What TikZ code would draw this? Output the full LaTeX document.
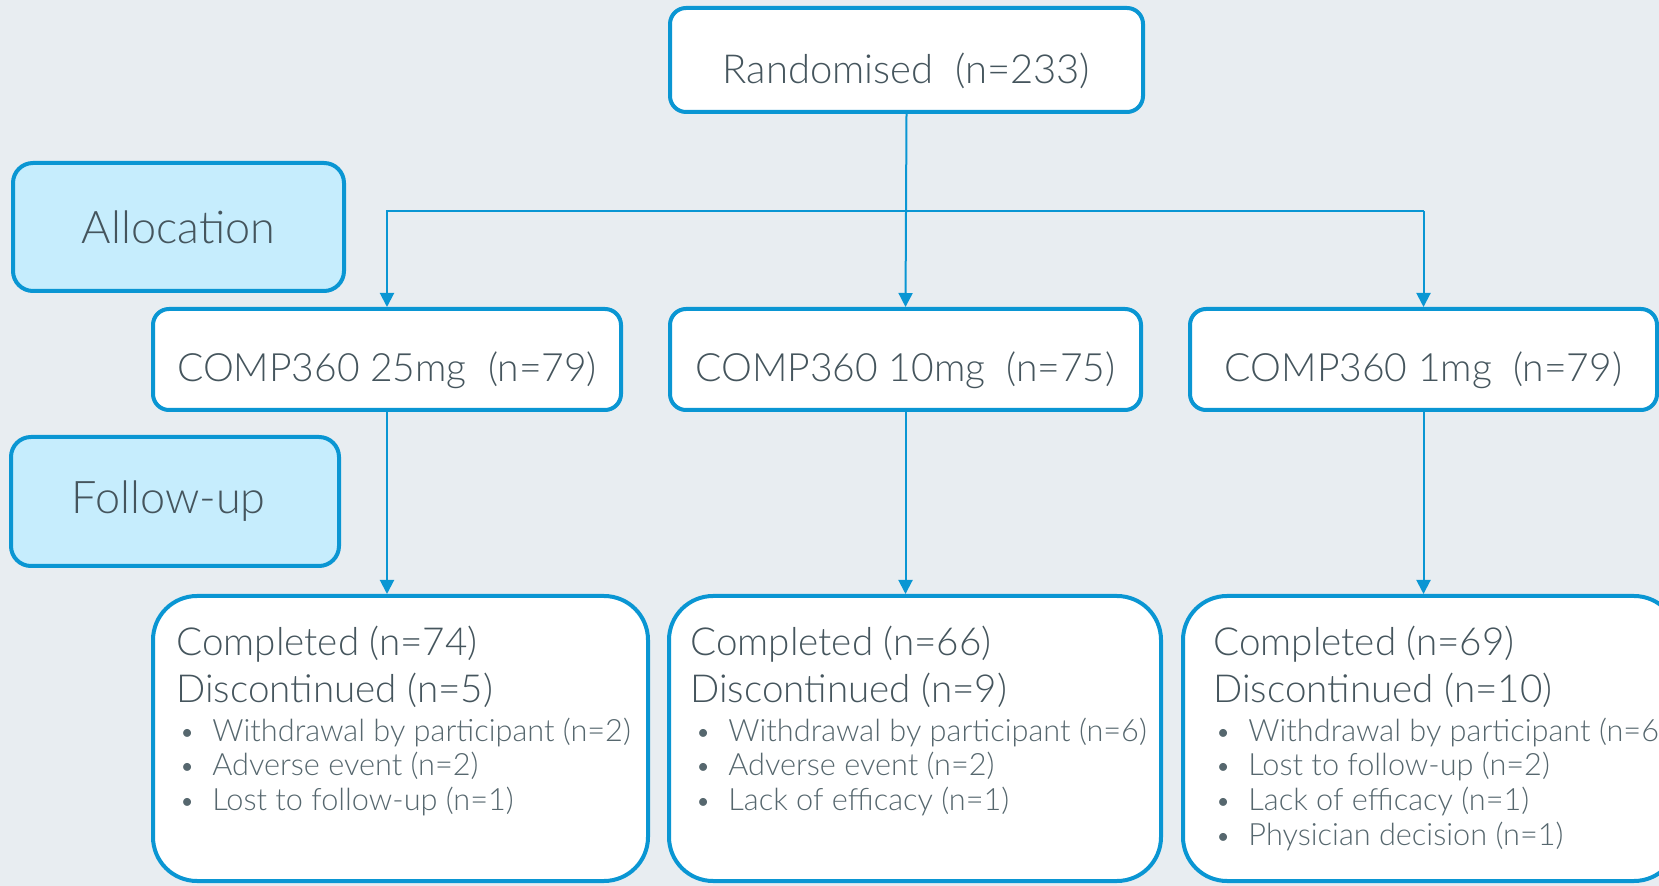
\documentclass[tikz,border=0pt]{standalone}
\usepackage{fontspec}
\setmainfont{Lato}
\newfontfamily\lt{Lato Light}
\usetikzlibrary{arrows.meta}
\definecolor{bg}{HTML}{E8EDF1}
\definecolor{bord}{HTML}{0A96D3}
\definecolor{txt}{HTML}{45555D}
\definecolor{txtl}{HTML}{56676E}
\definecolor{lab}{HTML}{C6EDFD}
\begin{document}
\begin{tikzpicture}[x=0.5pt,y=-0.5pt,
  box/.style={draw=bord, line width=2pt, fill=white, rounded corners=8pt, inner sep=0pt, text=txt, font=\lt\fontsize{19.5}{24}\selectfont},
  labbox/.style={box, fill=lab, rounded corners=10pt, font=\lt\fontsize{22.5}{26}\selectfont},
  bigbox/.style={box, rounded corners=22pt},
  conn/.style={draw=bord, line width=1pt, -{Triangle[width=7pt,length=7pt]}},
  head/.style={anchor=west, inner sep=0pt, text=txt, font=\lt\fontsize{19.3}{22}\selectfont},
  item/.style={anchor=west, inner sep=0pt, text=txtl, font=\lt\fontsize{15.35}{18}\selectfont},
]
\fill[bg] (0,0) rectangle (1659,886);
\useasboundingbox (0,0) rectangle (1659,886);
\newcommand{\bl}{\makebox[16.5pt][l]{\fontsize{13.5}{13.5}\selectfont\textbullet}}
\newcommand{\dn}[1]{\raisebox{-5.5pt}[\height][\depth]{#1}}

\node[box, minimum width=236.5pt, minimum height=52pt, font=\lt\fontsize{20}{24}\selectfont] (rand) at (906.5,60) {\dn{Randomised\ \ (n=233)}};
\node[labbox, minimum width=165.5pt, minimum height=64pt] (alloc) at (178.5,227) {Allocation};
\node[labbox, minimum width=164pt, minimum height=64.5pt] (foll) at (175,501.5) {\hspace*{-6.4pt}Follow-up};

\node[box, minimum width=234pt, minimum height=50.5pt] (m1) at (387,359.5) {\dn{COMP360 25mg\ \ (n=79)}};
\node[box, minimum width=235.5pt, minimum height=50.5pt] (m2) at (905.5,359.5) {\dn{COMP360 10mg\ \ (n=75)}};
\node[box, minimum width=233.5pt, minimum height=50.5pt] (m3) at (1423.5,359.5) {\dn{COMP360 1mg\ \ (n=79)}};

\node[bigbox, minimum width=247.5pt, minimum height=142.5pt] (b1) at (400.5,738.5) {};
\node[bigbox, minimum width=246pt, minimum height=142.5pt] (b2) at (915,738.5) {};
\node[bigbox, minimum width=247.5pt, minimum height=142.5pt] (b3) at (1430.5,738.5) {};

\coordinate (hl) at (905.5,211);
\draw[conn] (rand.south) -- (m2.north);
\draw[conn] (hl -| m3.north) -- (hl -| m1.north) -- (m1.north);
\draw[conn] (hl -| m3.north) -- (m3.north);
\draw[conn] (m1.south) -- (m1.south |- b1.north);
\draw[conn] (m2.south) -- (m2.south |- b2.north);
\draw[conn] (m3.south) -- (m3.south |- b3.north);

% box 1 text
\node[head] (b1c) at (176,644) {Completed (n=74)};
\node[head] (b1d) at (176,690) {Discontinued (n=5)};
\node[item] (b1i1) at (179,732) {\bl Withdrawal by participant (n=2)};
\node[item] (b1i2) at (179,766) {\bl Adverse event (n=2)};
\node[item] (b1i3) at (179,801) {\bl Lost to follow-up (n=1)};
% box 2 text
\node[head] (b2c) at (690,644) {Completed (n=66)};
\node[head] (b2d) at (690,690) {Discontinued (n=9)};
\node[item] (b2i1) at (695,732) {\bl Withdrawal by participant (n=6)};
\node[item] (b2i2) at (695,766) {\bl Adverse event (n=2)};
\node[item] (b2i3) at (695,801) {\bl Lack of efficacy (n=1)};
% box 3 text
\node[head] (b3c) at (1213,644) {Completed (n=69)};
\node[head] (b3d) at (1213,690) {Discontinued (n=10)};
\node[item] (b3i1) at (1215,732) {\bl Withdrawal by participant (n=6)};
\node[item] (b3i2) at (1215,766) {\bl Lost to follow-up (n=2)};
\node[item] (b3i3) at (1215,801) {\bl Lack of efficacy (n=1)};
\node[item] (b3i4) at (1215,836) {\bl Physician decision (n=1)};
\end{tikzpicture}
\end{document}
